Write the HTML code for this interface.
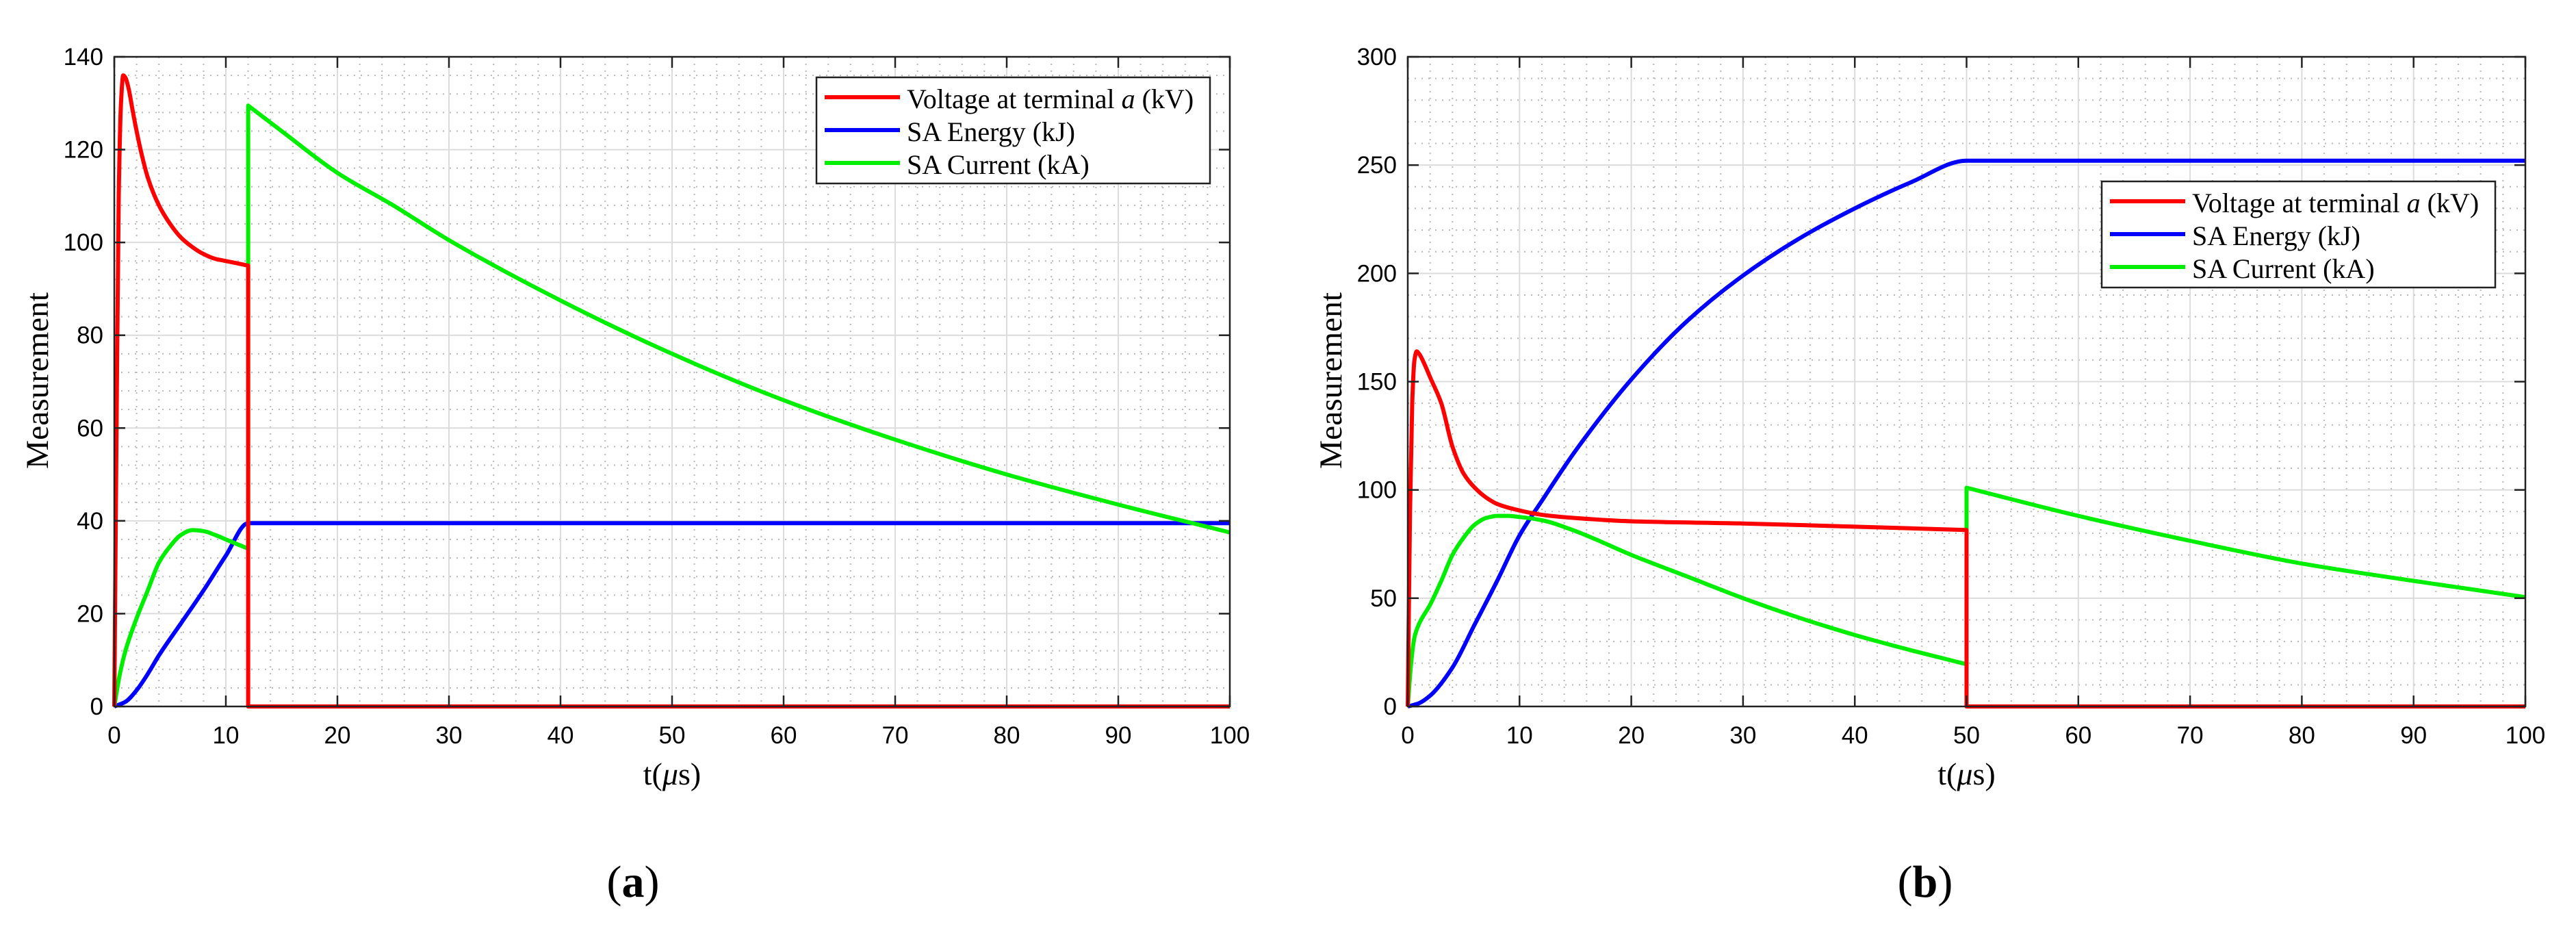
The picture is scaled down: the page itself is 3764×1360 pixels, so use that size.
<!DOCTYPE html>
<html><head><meta charset="utf-8">
<style>
html,body{margin:0;padding:0;background:#fff;}
svg{display:block;}
</style></head>
<body>
<svg id="fig" width="3764" height="1360" viewBox="0 0 3764 1360" xmlns="http://www.w3.org/2000/svg">
<rect width="3764" height="1360" fill="#fff"/>
<g id="pa"></g>
<g id="pb"></g>
</svg>
<script>
// ---- Panel (a) data ----
const aXTicks = [0,10,20,30,40,50,60,70,80,90,100];
const aYTicks = [0,20,40,60,80,100,120,140];
const aVoltT = [0,0.2,0.4,0.6,0.8,1,1.3,1.6,2,2.5,3,4,5,6,7,8,9,10,11,12,12,100];
const aVoltV = [0,60,110,130,136,135.5,133,129,124,118.5,114,108,104,101,99,97.5,96.5,96,95.5,95,0,0];
const aEnerT = [0,1,2,3,4,6,8,10,12,100];
const aEnerV = [0,1,3.5,7,11,18,25,32.5,39.5,39.5];
const aCurrT = [0,0.5,1,2,3,4,5,6,7,8,9,10,11,12,12,15,20,25,30,40,50,60,70,80,90,100];
const aCurrV = [0,7,12,19,25,31,34.5,37,38,37.8,37,36,35,34,129.5,124,115,108,100.5,87.5,76,66,57.5,50,43.5,37.5];
// ---- Panel (b) data ----
const bXTicks = [0,10,20,30,40,50,60,70,80,90,100];
const bYTicks = [0,50,100,150,200,250,300];
const bVoltT = [0,0.2,0.4,0.6,0.8,1,1.5,2,3,4,5,6,7,8,10,12,15,20,30,40,50,50,100];
const bVoltV = [0,90,140,160,164,163,158,152,140,120,107.5,101,96.5,93.5,90.5,88.5,87,85.5,84.5,83,81.5,0,0];
const bEnerT = [0,1,2,4,6,8,10,12,15,20,25,30,35,40,45,50,100];
const bEnerV = [0,1.5,5,18,38,58,79,95,118,151,178,199,216,230,242,252,252];
const bCurrT = [0,0.3,0.6,1,2,3,4,5,6,7,8,9,10,12,15,20,25,30,35,40,45,50,50,60,70,80,90,100];
const bCurrV = [0,20,32,38,47,58,70,78,84,87,88,88,87.5,86,81,70,60,50,41,33,26,19.5,101,88,76.5,66,58,50.5];

const NS='http://www.w3.org/2000/svg';
function mk(parent,tag,attrs,text){
  const e=document.createElementNS(NS,tag);
  for(const k in attrs) e.setAttribute(k,attrs[k]);
  if(text!==undefined) e.textContent=text;
  parent.appendChild(e); return e;
}
function f(v){return v.toFixed(1);}
function monoSeg(s){
  // Fritsch-Carlson monotone cubic, returns path commands (excluding initial point)
  const n=s.length; if(n<2) return '';
  const dx=[],m=[],tg=new Array(n);
  for(let i=0;i<n-1;i++){dx[i]=s[i+1][0]-s[i][0]; m[i]=(s[i+1][1]-s[i][1])/dx[i];}
  tg[0]=m[0]; tg[n-1]=m[n-2];
  for(let i=1;i<n-1;i++){
    if(m[i-1]*m[i]<=0) tg[i]=0;
    else { const w1=2*dx[i]+dx[i-1], w2=dx[i]+2*dx[i-1]; tg[i]=(w1+w2)/(w1/m[i-1]+w2/m[i]); }
  }
  let d='';
  for(let i=0;i<n-1;i++){
    const h=dx[i]/3;
    d+=` C${f(s[i][0]+h)},${f(s[i][1]+tg[i]*h)} ${f(s[i+1][0]-h)},${f(s[i+1][1]-tg[i+1]*h)} ${f(s[i+1][0])},${f(s[i+1][1])}`;
  }
  return d;
}
function smoothPath(P){
  let d='M'+f(P[0][0])+','+f(P[0][1]);
  const segs=[];let cur=[P[0]];
  for(let i=1;i<P.length;i++){
    if(Math.abs(P[i][0]-P[i-1][0])<0.01){segs.push(cur);cur=[P[i]];}
    else cur.push(P[i]);
  }
  segs.push(cur);
  segs.forEach((s,si)=>{
    if(si>0) d+=' L'+f(s[0][0])+','+f(s[0][1]);
    d+=monoSeg(s);
  });
  return d;
}
function drawPanel(g,cfg){
  const L=cfg.L,R=cfg.R,T=83,B=1032;
  const sx=v=>L+(v-0)/(100-0)*(R-L);
  const sy=v=>B-(v-0)/(cfg.ymax)*(B-T);
  const minor=mk(g,'g',{stroke:'#b8b8b8','stroke-width':2,'stroke-dasharray':'2 8'});
  
  
  for(let x=2;x<100;x+=2){ if(x%10) mk(minor,'line',{x1:sx(x),x2:sx(x),y1:T,y2:B}); }
  for(let y=cfg.ymin;y<cfg.ymax;y+=cfg.ymin){ if(y%cfg.ystep) mk(minor,'line',{x1:L,x2:R,y1:sy(y),y2:sy(y)}); }
  const major=mk(g,'g',{stroke:'#dcdcdc','stroke-width':2});
  
  
  cfg.xt.forEach(x=>{ if(x>0&&x<100) mk(major,'line',{x1:sx(x),x2:sx(x),y1:T,y2:B}); });
  cfg.yt.forEach(y=>{ if(y>0&&y<cfg.ymax) mk(major,'line',{x1:L,x2:R,y1:sy(y),y2:sy(y)}); });
  const series=[[cfg.vt,cfg.vv,'#ff0000','voltage-line'],[cfg.et,cfg.ev,'#0000ff','energy-line'],[cfg.ct,cfg.cv,'#00ee00','current-line']];
  [1,2,0].forEach(i=>{
    const s=series[i];
    const P=s[0].map((t,j)=>[sx(t),sy(s[1][j])]);
    const p=mk(g,'path',{d:smoothPath(P),fill:'none',stroke:s[2],'stroke-width':6,'stroke-linejoin':'round'});
    
    
  });
  const ax=mk(g,'g',{stroke:'#222','stroke-width':2.5,fill:'none'});
  
  
  mk(ax,'rect',{x:L,y:T,width:R-L,height:B-T});
  cfg.xt.forEach(x=>{ mk(ax,'line',{x1:sx(x),x2:sx(x),y1:B,y2:B-16}); mk(ax,'line',{x1:sx(x),x2:sx(x),y1:T,y2:T+16}); });
  cfg.yt.forEach(y=>{ mk(ax,'line',{x1:L,x2:L+16,y1:sy(y),y2:sy(y)}); mk(ax,'line',{x1:R,x2:R-16,y1:sy(y),y2:sy(y)}); });
  cfg.xt.forEach(x=>{
    const t=mk(g,'text',{x:sx(x),y:1086,'text-anchor':'middle','font-family':'Liberation Sans, sans-serif','font-size':35},String(x));
    
    
  });
  cfg.yt.forEach(y=>{
    const t=mk(g,'text',{x:L-16,y:sy(y)+12,'text-anchor':'end','font-family':'Liberation Sans, sans-serif','font-size':35},String(y));
    
    
  });
  const xl=mk(g,'text',{x:(L+R)/2,y:1146,'text-anchor':'middle','font-family':'Liberation Serif, serif','font-size':46});
  
  
  xl.innerHTML='t(<tspan font-style="italic">μ</tspan>s)';
  const yl=mk(g,'text',{x:0,y:0,'text-anchor':'middle','font-family':'Liberation Serif, serif','font-size':47,textLength:258,lengthAdjust:'spacingAndGlyphs',transform:`translate(${cfg.yx},556) rotate(-90)`},'Measurement');
  
  
  const lg=mk(g,'g',{});
  
  
  mk(lg,'rect',{x:cfg.lx,y:cfg.ly,width:575,height:155,fill:'#fff',stroke:'#222','stroke-width':2.5});
  const labels=['Voltage at terminal <tspan font-style="italic">a</tspan> (kV)','SA Energy (kJ)','SA Current (kA)'];
  const cols=['#ff0000','#0000ff','#00ee00'];
  labels.forEach((lab,i)=>{
    const yy=cfg.ly+29+i*48;
    const ln=mk(lg,'line',{x1:cfg.lx+12,x2:cfg.lx+122,y1:yy,y2:yy,stroke:cols[i],'stroke-width':6});
    
    
    const tx=mk(lg,'text',{x:cfg.lx+132,y:yy+16,'font-family':'Liberation Serif, serif','font-size':40});
    
    
    tx.innerHTML=lab;
  });
  const pl=mk(g,'text',{x:cfg.px,y:1310,'text-anchor':'middle','font-family':'Liberation Serif, serif','font-size':66});
  
  
  pl.innerHTML='(<tspan font-weight="bold">'+cfg.tag+'</tspan>)';
}
drawPanel(document.getElementById('pa'),{L:167,R:1797,ymax:140,ymin:4,ystep:20,xt:aXTicks,yt:aYTicks,
  vt:aVoltT,vv:aVoltV,et:aEnerT,ev:aEnerV,ct:aCurrT,cv:aCurrV,yx:70,lx:1193,ly:113,px:925,tag:'a'});
drawPanel(document.getElementById('pb'),{L:2057,R:3690,ymax:300,ymin:10,ystep:50,xt:bXTicks,yt:bYTicks,
  vt:bVoltT,vv:bVoltV,et:bEnerT,ev:bEnerV,ct:bCurrT,cv:bCurrV,yx:1960,lx:3071,ly:265,px:2813,tag:'b'});
</script>
</body></html>
